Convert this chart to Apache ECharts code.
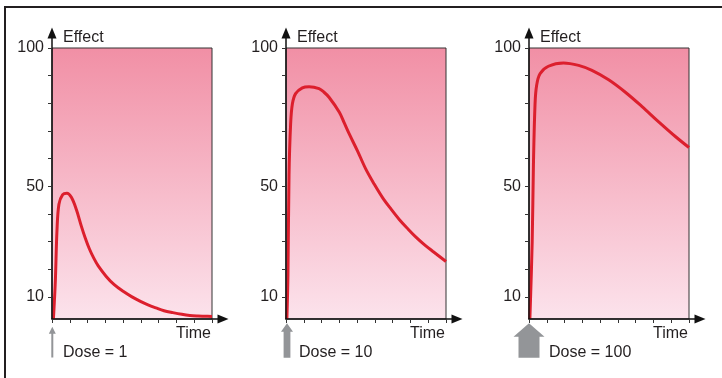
<!DOCTYPE html>
<html>
<head>
<meta charset="utf-8">
<script src="https://cdn.jsdelivr.net/npm/echarts@6/dist/echarts.min.js"></script>
<style>
html,body{margin:0;padding:0;background:#fff;}
#chart{width:722px;height:378px;}
</style>
</head>
<body>
<div id="chart"></div>
<script>
// ---- data ----
const doseLabels = ['Dose = 1', 'Dose = 10', 'Dose = 100'];
const yTickValues = [10, 20, 30, 40, 50, 60, 70, 80, 90, 100];
const yLabelValues = [10, 50, 100];
const xTickValues = [0, 1, 2, 3, 4, 5, 6, 7, 8, 9];

const time1 = [0.08, 0.13, 0.19, 0.28, 0.39, 0.6, 0.84, 1.09, 1.37, 1.65, 1.87, 2.1, 2.35, 2.6, 3.05, 3.5, 4.0, 4.5, 5.0, 5.4, 5.85, 6.3, 6.8, 7.3, 7.75, 8.2, 8.6, 9];
const effect1 = [2, 8, 16, 34, 43.5, 47, 47.5, 46, 41.6, 35.6, 31.3, 27.4, 24, 21.2, 17.4, 14.4, 12, 10, 8.3, 7.1, 6, 5, 4.3, 3.7, 3.3, 3.1, 3.0, 2.9];

const time2 = [0.05, 0.11, 0.17, 0.26, 0.36, 0.54, 0.92, 1.3, 1.86, 2.14, 2.42, 3.0, 3.27, 3.55, 4.02, 4.49, 4.96, 5.43, 5.9, 6.37, 6.84, 7.31, 7.78, 8.25, 9];
const effect2 = [2, 18, 54, 72.5, 79.8, 83.5, 85.6, 86, 85.3, 84, 82.2, 76.8, 73.0, 69, 62.8, 56.2, 50.8, 45.9, 41.8, 38, 34.7, 31.6, 28.9, 26.5, 22.8];

const time3 = [0.05, 0.18, 0.25, 0.34, 0.43, 0.62, 1.09, 1.94, 2.79, 3.54, 4.48, 5.42, 6.36, 7.31, 8.25, 9];
const effect3 = [2, 30, 58, 79.8, 86.5, 90.7, 93.4, 94.6, 93.7, 91.9, 88.5, 84, 78.8, 73.2, 67.9, 64];

const times = [time1, time2, time3];
const effects = [effect1, effect2, effect3];

// ---- layout ----
const FONT = "'Liberation Sans', Arial, Helvetica, sans-serif";
const FS = 16;
const gridLefts = [52, 286, 529];
const gridTop = 33, gridHeight = 286, gridWidth = 171;
const plotWidth = 160;           // width of 0..9 on x
const xMax = 9 * gridWidth / plotWidth;
const yMin = 2, yTop = 100;
const yScale = (gridHeight - 15) / (yTop - yMin);
const yMax = yTop + 15 / yScale;

const chart = echarts.init(document.getElementById('chart'), null, {renderer: 'canvas'});

const grids = [], xAxes = [], yAxes = [], series = [];
for (let i = 0; i < 3; i++) {
  grids.push({left: gridLefts[i], top: gridTop, width: gridWidth, height: gridHeight, containLabel: false});
  xAxes.push({
    gridIndex: i, type: 'value', min: 0, max: xMax, z: 5,
    axisLine: {show: true, onZero: false, symbol: ['none', 'triangle'], symbolSize: [9, 11],
      lineStyle: {color: '#111', width: 1.5}},
    axisTick: {show: true, customValues: xTickValues, length: 4, lineStyle: {color: '#333', width: 1}},
    axisLabel: {show: false},
    splitLine: {show: false},
    name: 'Time', nameLocation: 'end', nameGap: -12,
    nameTextStyle: {fontFamily: FONT, fontSize: FS, color: '#231f20', align: 'right', verticalAlign: 'top', padding: [7, 0, 0, 0]}
  });
  yAxes.push({
    gridIndex: i, type: 'value', min: yMin, max: yMax, z: 5,
    axisLine: {show: true, onZero: false, symbol: ['none', 'triangle'], symbolSize: [9, 11],
      lineStyle: {color: '#111', width: 1.5}},
    axisTick: {show: true, customValues: yTickValues, length: 4, lineStyle: {color: '#333', width: 1}},
    axisLabel: {show: true, customValues: yLabelValues, fontFamily: FONT, fontSize: FS, color: '#231f20', margin: 8},
    splitLine: {show: false},
    name: 'Effect', nameLocation: 'end', nameGap: -5,
    nameTextStyle: {fontFamily: FONT, fontSize: FS, color: '#231f20', align: 'left', verticalAlign: 'middle', padding: [0, 0, 0, 11]}
  });
  series.push({
    type: 'line', xAxisIndex: i, yAxisIndex: i,
    data: times[i].map((t, k) => [t, effects[i][k]]),
    showSymbol: false, smooth: 0.35, z: 3,
    lineStyle: {color: '#DC1F2D', width: 3},
    markArea: {
      silent: true,
      itemStyle: {
        color: {type: 'linear', x: 0, y: 0, x2: 0, y2: 1,
          colorStops: [{offset: 0, color: '#F18FA5'}, {offset: 1, color: '#FCE3EC'}]},
        borderColor: '#333', borderWidth: 1
      },
      data: [[{coord: [0, yMin]}, {coord: [9, yTop]}]]
    }
  });
}

chart.setOption({
  animation: false,
  backgroundColor: '#fff',
  grid: grids, xAxis: xAxes, yAxis: yAxes, series: series
});

// dose arrows (annotation shapes) + frame
const arrowShapes = [
  {tip: 7.7, headHalf: 3.5, headLen: 7, shaftHalf: 1, bottom: 38.5, dx: 0.3, labelDx: 11},
  {tip: 4.3, headHalf: 6, headLen: 8.5, shaftHalf: 3.4, bottom: 38.7, dx: 1, labelDx: 13},
  {tip: 4.3, headHalf: 15.5, headLen: 13.4, shaftHalf: 10.5, bottom: 38.7, dx: 0, labelDx: 20}
];
const graphics = [
  {type: 'line', shape: {x1: 4, y1: 7, x2: 722, y2: 7}, style: {stroke: '#231f20', lineWidth: 2}},
  {type: 'line', shape: {x1: 5, y1: 6, x2: 5, y2: 378}, style: {stroke: '#231f20', lineWidth: 2}}
];
for (let i = 0; i < 3; i++) {
  const p = chart.convertToPixel({gridIndex: i}, [0, yMin]);
  const a = arrowShapes[i];
  const cx = p[0] + a.dx, ty = p[1] + a.tip, by = p[1] + a.bottom, hy = ty + a.headLen;
  graphics.push({
    type: 'polygon',
    shape: {points: [[cx, ty], [cx + a.headHalf, hy], [cx + a.shaftHalf, hy], [cx + a.shaftHalf, by],
      [cx - a.shaftHalf, by], [cx - a.shaftHalf, hy], [cx - a.headHalf, hy]]},
    style: {fill: '#939598'}
  });
  graphics.push({
    type: 'text', x: p[0] + a.labelDx, y: p[1] + 34,
    style: {text: doseLabels[i], font: FS + 'px ' + FONT, fill: '#231f20', verticalAlign: 'middle', align: 'left'}
  });
}
chart.setOption({graphic: graphics});
</script>
</body>
</html>
